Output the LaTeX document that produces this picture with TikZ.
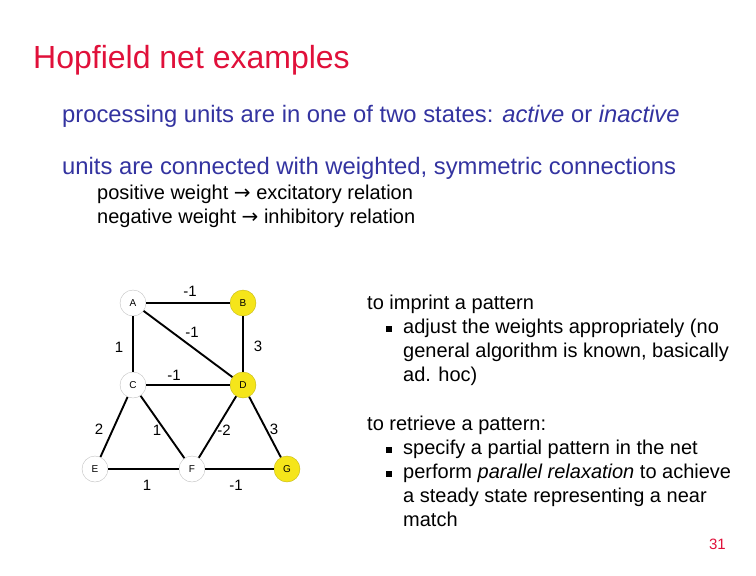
\documentclass[tikz,border=0pt]{standalone}
\usepackage{fontspec}
\setmainfont{Liberation Sans}
\newfontfamily\djv{DejaVu Sans}
\definecolor{ttl}{HTML}{E0103A}
\definecolor{bl}{HTML}{3333A0}
\definecolor{yel}{HTML}{F5E51A}
\newcommand{\myarr}{{\djv →}}
\begin{document}
\begin{tikzpicture}[x=1pt,y=-1pt,
 unit/.style={circle,draw=black!25,minimum size=26pt,inner sep=0pt,font=\fontsize{10}{11}\selectfont},
 on/.style={unit,fill=yel,draw=yel!80!black},
 edge/.style={line width=1.9pt},
 wl/.style={font=\fontsize{15}{16}\selectfont},
 txt/.style={anchor=base west,inner sep=0pt},
 rt/.style={txt,font=\fontsize{20}{24}\selectfont}]
\useasboundingbox (0,0) rectangle (756,576);
\node[txt,text=ttl,font=\fontsize{32}{36}\selectfont] (t) at (33,68) {Hopfield net examples};
\node[txt,text=bl,font=\fontsize{23.8}{28}\selectfont] (l1) at (62,122) {processing units are in one of two states: \textit{active} or \textit{inactive}};
\node[txt,text=bl,font=\fontsize{23.8}{28}\selectfont] (l2) at (62,174) {units are connected with weighted, symmetric connections};
\node[txt,font=\fontsize{20}{24}\selectfont] (l3) at (97,199) {positive weight \myarr{} excitatory relation};
\node[txt,font=\fontsize{20}{24}\selectfont] (l4) at (97,223) {negative weight \myarr{} inhibitory relation};
\node[rt] (r1) at (367,309) {to imprint a pattern};
\node[rt] (r2) at (403,333) {adjust the weights appropriately (no};
\node[rt] (r3) at (403,357) {general algorithm is known, basically};
\node[rt] (r4) at (403,381) {ad. hoc)};
\node[rt] (r5) at (367,430) {to retrieve a pattern:};
\node[rt] (r6) at (403,454) {specify a partial pattern in the net};
\node[rt] (r7) at (403,478) {perform \textit{parallel relaxation} to achieve};
\node[rt] (r8) at (403,502) {a steady state representing a near};
\node[rt] (r9) at (403,526) {match};
\foreach \y/\n in {326/b1,447/b2,471/b3}
  \fill (386,\y) rectangle (392,\y+6);
\node[anchor=base east,inner sep=0pt,text=ttl,font=\fontsize{15}{16}\selectfont] (pg) at (726,549) {31};
% graph
\node[unit] (A) at (133,303) {A};
\node[on] (B) at (243,303) {B};
\node[unit] (C) at (133,385) {C};
\node[on] (D) at (243,385) {D};
\node[unit] (E) at (95,469) {E};
\node[unit] (F) at (192,469) {F};
\node[on] (G) at (287,469) {G};
\draw[edge] (A)--(B); \draw[edge] (A)--(C); \draw[edge] (A)--(D);
\draw[edge] (B)--(D); \draw[edge] (C)--(D); \draw[edge] (C)--(E);
\draw[edge] (C)--(F); \draw[edge] (D)--(F); \draw[edge] (D)--(G);
\draw[edge] (E)--(F); \draw[edge] (F)--(G);
\node[wl] (w1) at (190,291) {-1};
\node[wl] (w2) at (192,332) {-1};
\node[wl] (w3) at (119,347) {1};
\node[wl] (w4) at (258,346) {3};
\node[wl] (w5) at (174,375) {-1};
\node[wl] (w6) at (99,429) {2};
\node[wl] (w7) at (157,430) {1};
\node[wl] (w8) at (224,430) {-2};
\node[wl] (w9) at (274,429) {3};
\node[wl] (w10) at (147,485) {1};
\node[wl] (w11) at (236,485) {-1};
\end{tikzpicture}
\end{document}
